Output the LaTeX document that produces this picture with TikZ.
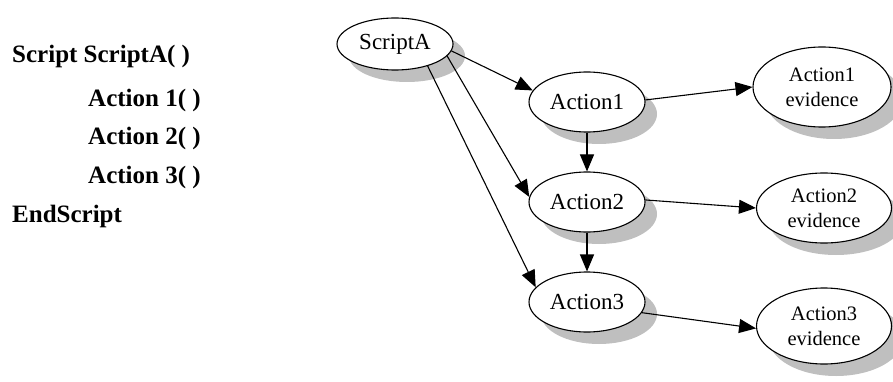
\documentclass[tikz,border=0pt]{standalone}
\usepackage{fontspec}
\setmainfont{Liberation Serif}
\usetikzlibrary{shapes.geometric,arrows.meta,shadows}
\definecolor{shadowgray}{gray}{0.75}
\begin{document}
\begin{tikzpicture}[x=1pt,y=-1pt,
  oval/.style={ellipse, draw, line width=1.1pt, fill=white, inner sep=0pt,
    drop shadow={shadow xshift=12pt, shadow yshift=-12pt, fill=shadowgray, opacity=1},
    font=\fontsize{23}{27}\selectfont},
  ev/.style={oval, align=center, font=\fontsize{20.5}{25}\selectfont},
  conn/.style={line width=1.1pt, -{Triangle[length=17pt,width=14pt]}},
  code/.style={anchor=base west, inner sep=0pt, font=\bfseries\fontsize{25}{30}\selectfont}]
\useasboundingbox (0,0) rectangle (893,382);

\node[code] (l1) at (12,63) {Script ScriptA( )};
\node[code] (l2) at (88,107) {Action 1( )};
\node[code] (l3) at (88,145) {Action 2( )};
\node[code] (l4) at (88,183) {Action 3( )};
\node[code] (l5) at (12,222) {EndScript};

\node[oval, minimum width=116pt, minimum height=52pt] (s) at (395,44) {ScriptA};
\node[oval, minimum width=116pt, minimum height=60pt] (a1) at (587,102) {Action1};
\node[oval, minimum width=116pt, minimum height=60pt] (a2) at (587,202) {Action2};
\node[oval, minimum width=116pt, minimum height=60pt] (a3) at (587,302) {Action3};

\node[ev, minimum width=138pt, minimum height=80pt] (e1) at (822,87) {Action1\\evidence};
\node[ev, minimum width=135pt, minimum height=70pt] (e2) at (824,208) {Action2\\evidence};
\node[ev, minimum width=135pt, minimum height=76pt] (e3) at (824,326) {Action3\\evidence};

\draw[conn] (s.-7) -- (a1.168);
\draw[conn] (s.-13) -- (a2.175);
\draw[conn] (s.-34) -- (a3.164);
\draw[conn] (a1.south) -- (a2.north);
\draw[conn] (a2.south) -- (a3.north);
\draw[conn] (a1.2) -- (e1.west);
\draw[conn] (a2.2) -- (e2.west);
\draw[conn] (a3.-11) -- (e3.182);
\end{tikzpicture}
\end{document}
